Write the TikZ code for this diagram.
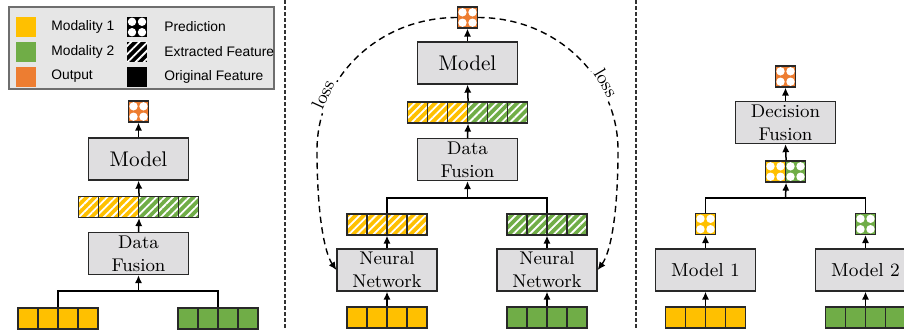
\documentclass[tikz,border=0pt]{standalone}
\usepackage{fontspec}
\newfontfamily\legfont{Liberation Sans}
\usetikzlibrary{arrows.meta,patterns.meta}
\definecolor{cyel}{RGB}{255,192,0}
\definecolor{cgrn}{RGB}{112,173,71}
\definecolor{corg}{RGB}{237,125,49}
\definecolor{boxfill}{RGB}{223,222,224}
\definecolor{edge}{RGB}{40,40,40}
\definecolor{legfill}{RGB}{230,230,230}
\definecolor{legedge}{RGB}{110,110,110}
\definecolor{sepc}{RGB}{50,50,50}
\tikzset{
  gbox/.style={draw=edge, fill=boxfill, line width=0.65pt, minimum width=50pt, minimum height=21pt,
    inner sep=0pt, align=center, font=\fontsize{9.2pt}{11.5pt}\selectfont},
  bigtext/.style={font=\fontsize{10.6pt}{12.7pt}\selectfont},
  cells/.style={draw=edge, line width=0.6pt, inner sep=0pt, minimum height=10.5pt, minimum width=#1*10pt,
    path picture={\pgfmathtruncatemacro\nn{#1-1}\ifnum\nn>0
      \foreach \k in {1,...,\nn}{\draw[edge,line width=0.6pt] ([xshift=\k*10pt]path picture bounding box.south west) -- ([xshift=\k*10pt]path picture bounding box.north west);}\fi}},
  hatch/.style={preaction={fill=#1}, pattern={Lines[angle=45,distance=2.9pt,line width=0.9pt]}, pattern color=white},
  pred/.style={fill=#1, inner sep=0pt, minimum width=10pt, minimum height=10.5pt,
    path picture={\foreach \dx in {-2.5pt,2.5pt}{\foreach \dy in {-2.6pt,2.6pt}{
      \fill[white] ([xshift=\dx,yshift=\dy]path picture bounding box.center) circle (2.1pt);}}}},
  predcell/.style={pred=#1, draw=edge, line width=0.6pt},
  arr/.style={draw=black, line width=0.75pt, -{Latex[length=4pt,width=3.6pt]}},
  conn/.style={draw=black, line width=0.75pt},
  lossline/.style={draw=black, line width=0.7pt, dash pattern=on 3.2pt off 2.2pt, -{Latex[length=4pt,width=3.6pt]}},
  losslab/.style={sloped, anchor=base, fill=white, inner sep=1.2pt, font=\fontsize{9.2pt}{11pt}\selectfont},
  sep/.style={draw=sepc, line width=0.9pt, dash pattern=on 2pt off 1pt},
  sw/.style={inner sep=0pt, minimum size=10pt},
  legtxt/.style={anchor=west, inner sep=0pt, font=\legfont\fontsize{6.9pt}{8pt}\selectfont},
}
\begin{document}
\begin{tikzpicture}[x=0.5pt,y=-0.5pt]
\useasboundingbox (0,0) rectangle (904,329);

% separators
\coordinate (s1a) at (285,0); \coordinate (s1b) at (285,329);
\coordinate (s2a) at (636,0); \coordinate (s2b) at (636,329);
\draw[sep] (s1a) -- (s1b);
\draw[sep] (s2a) -- (s2b);

% legend
\node[draw=legedge, fill=legfill, line width=0.7pt, minimum width=132.5pt, minimum height=41pt, inner sep=0pt] (legend) at (141.5,48) {};
\node[sw, fill=cyel] (lg1) at (26,27) {};
\node[sw, fill=cgrn] (lg2) at (26,51.5) {};
\node[sw, fill=corg] (lg3) at (26,76.5) {};
\node[legtxt] (lt1) at (51,27) {Modality 1};
\node[legtxt] (lt2) at (51,51.5) {Modality 2};
\node[legtxt] (lt3) at (51,76.5) {Output};
\node[sw, pred=black, minimum height=10pt] (lg4) at (137,27) {};
\node[sw, hatch=black] (lg5) at (137,51.5) {};
\node[sw, fill=black] (lg6) at (137,76.5) {};
\node[legtxt] (lt4) at (164,27) {Prediction};
\node[legtxt] (lt5) at (164,51.5) {Extracted Feature};
\node[legtxt] (lt6) at (164,76.5) {Original Feature};

% ---------------- left panel ----------------
\node[predcell=corg] (Lout) at (138.5,111.5) {};
\node[gbox, bigtext] (Lmodel) at (138.5,159) {Model};
\node[cells=3, hatch=cyel] (Lfy) at (108.5,207) {};
\node[cells=3, hatch=cgrn] (Lfg) at (168.5,207) {};
\node[gbox] (Lfuse) at (138.5,253.5) {Data\\Fusion};
\coordinate (Lj) at (138.5,291);
\node[cells=4, fill=cyel] (Ly) at (58,318.5) {};
\node[cells=4, fill=cgrn] (Lg) at (218,318.5) {};
\draw[conn] (Ly.north) |- (Lj) -| (Lg.north);
\draw[arr] (Lj) -- (Lfuse.south);
\draw[arr] (Lfuse.north) -- (Lfy.south east);
\draw[arr] (Lfy.north east) -- (Lmodel.south);
\draw[arr] (Lmodel.north) -- (Lout.south);

% ---------------- middle panel ----------------
\node[predcell=corg] (Mout) at (467.5,17.5) {};
\node[gbox, bigtext] (Mmodel) at (467.5,63) {Model};
\node[cells=3, hatch=cyel] (Mfy) at (437.5,112.5) {};
\node[cells=3, hatch=cgrn] (Mfg) at (497.5,112.5) {};
\node[gbox] (Mfuse) at (467.5,159.5) {Data\\Fusion};
\coordinate (Mj) at (467.5,198);
\node[cells=4, hatch=cyel] (Mey) at (387,224.5) {};
\node[cells=4, hatch=cgrn] (Meg) at (547,224.5) {};
\node[gbox] (Mnn1) at (387,270) {Neural\\Network};
\node[gbox] (Mnn2) at (547,270) {Neural\\Network};
\node[cells=4, fill=cyel] (My) at (387,317.5) {};
\node[cells=4, fill=cgrn] (Mg) at (547,317.5) {};
\draw[arr] (My.north) -- (Mnn1.south);
\draw[arr] (Mg.north) -- (Mnn2.south);
\draw[arr] (Mnn1.north) -- (Mey.south);
\draw[arr] (Mnn2.north) -- (Meg.south);
\draw[conn] (Mey.north) |- (Mj) -| (Meg.north);
\draw[arr] (Mj) -- (Mfuse.south);
\draw[arr] (Mfuse.north) -- (Mfy.south east);
\draw[arr] (Mfy.north east) -- (Mmodel.south);
\draw[arr] (Mmodel.north) -- (Mout.south);
\coordinate (lossL) at (317,150);
\coordinate (lossR) at (618,150);
\draw[lossline] (Mout.west) .. controls (378,17.5) and (317,78) .. (lossL)
  node[losslab, pos=0.74] (lossLt) {loss}
  .. controls (317,212) and (324,252) .. (Mnn1.west);
\draw[lossline] (Mout.east) .. controls (557,17.5) and (618,78) .. (lossR)
  node[losslab, pos=0.68] (lossRt) {loss}
  .. controls (618,212) and (611,252) .. (Mnn2.east);

% ---------------- right panel ----------------
\node[predcell=corg] (Rout) at (785.5,76.5) {};
\node[gbox] (Rdec) at (785.5,122.5) {Decision\\Fusion};
\node[predcell=cyel] (Rpy) at (775.5,171.5) {};
\node[predcell=cgrn] (Rpg) at (795.5,171.5) {};
\coordinate (Rj) at (785.5,198);
\node[predcell=cyel] (Rsy) at (705.5,224) {};
\node[predcell=cgrn] (Rsg) at (865.5,224) {};
\node[gbox, font=\fontsize{9.4pt}{11.5pt}\selectfont] (Rm1) at (705.5,270) {Model 1};
\node[gbox, font=\fontsize{9.4pt}{11.5pt}\selectfont] (Rm2) at (865.5,270) {Model 2};
\node[cells=4, fill=cyel] (Ry) at (705.5,317.5) {};
\node[cells=4, fill=cgrn] (Rg) at (865.5,317.5) {};
\draw[arr] (Ry.north) -- (Rm1.south);
\draw[arr] (Rg.north) -- (Rm2.south);
\draw[arr] (Rm1.north) -- (Rsy.south);
\draw[arr] (Rm2.north) -- (Rsg.south);
\draw[conn] (Rsy.north) |- (Rj) -| (Rsg.north);
\draw[arr] (Rj) -- (Rpy.south east);
\draw[arr] (Rpy.north east) -- (Rdec.south);
\draw[arr] (Rdec.north) -- (Rout.south);
\end{tikzpicture}
\end{document}
